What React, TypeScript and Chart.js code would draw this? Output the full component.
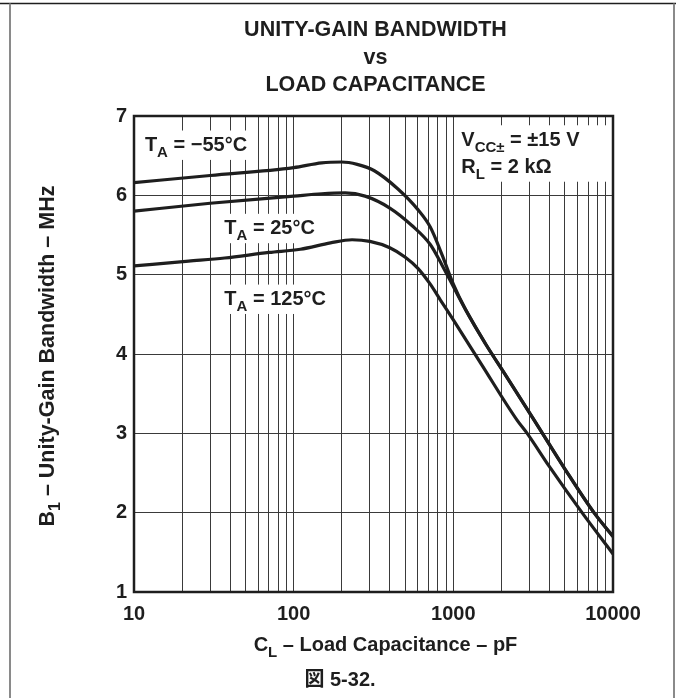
import React, { useEffect, useRef } from 'react';
import { Chart, registerables } from 'chart.js';

Chart.register(...registerables);

const FONT = "'Liberation Sans', Arial, 'Noto Sans CJK JP', sans-serif";
const INK = '#1e1e1e';

// Load capacitance (pF) and unity-gain bandwidth (MHz) per temperature
const capsNeg55 = [10, 30, 100, 150, 200, 250, 320, 450, 600, 717, 850, 1000, 1200, 1600, 2100, 3200, 5000, 7600, 10000];
const bwNeg55 = [6.16, 6.25, 6.35, 6.41, 6.42, 6.39, 6.31, 6.08, 5.82, 5.6, 5.25, 4.88, 4.55, 4.12, 3.75, 3.17, 2.55, 2.0, 1.7];

const caps25 = [10, 30, 100, 150, 210, 280, 400, 550, 717, 850, 1000, 1200, 1600, 2100, 3200, 5000, 7600, 10000];
const bw25 = [5.8, 5.9, 5.99, 6.02, 6.03, 5.99, 5.84, 5.62, 5.38, 5.12, 4.85, 4.55, 4.12, 3.75, 3.17, 2.55, 2.0, 1.7];

const caps125 = [10, 22, 37, 70, 110, 170, 232, 300, 400, 500, 600, 717, 830, 1000, 1500, 2500, 2900, 4000, 6400, 10000];
const bw125 = [5.11, 5.17, 5.21, 5.28, 5.32, 5.4, 5.44, 5.42, 5.34, 5.22, 5.08, 4.88, 4.68, 4.43, 3.87, 3.17, 3.0, 2.58, 2.0, 1.48];

const xDecades = [10, 100, 1000, 10000];
const xMultipliers = [1, 2, 3, 4, 5, 6, 7, 8, 9];
const yMin = 1;
const yMax = 7;

const titleLines = ['UNITY-GAIN BANDWIDTH', 'vs', 'LOAD CAPACITANCE'];

type Seg = { t: string; sub?: boolean };

const xTitle: Seg[] = [{ t: 'C' }, { t: 'L', sub: true }, { t: ' \u2013 Load Capacitance \u2013 pF' }];
const yTitle: Seg[] = [{ t: 'B' }, { t: '1', sub: true }, { t: ' \u2013 Unity-Gain Bandwidth \u2013 MHz' }];
const caption = '\u56f3 5-32.';

const labelNeg55: Seg[] = [{ t: 'T' }, { t: 'A', sub: true }, { t: ' = \u221255\u00b0C' }];
const label25: Seg[] = [{ t: 'T' }, { t: 'A', sub: true }, { t: ' = 25\u00b0C' }];
const label125: Seg[] = [{ t: 'T' }, { t: 'A', sub: true }, { t: ' = 125\u00b0C' }];
const labelVcc: Seg[] = [{ t: 'V' }, { t: 'CC\u00b1', sub: true }, { t: ' = \u00b115 V' }];
const labelRl: Seg[] = [{ t: 'R' }, { t: 'L', sub: true }, { t: ' = 2 k\u03a9' }];

function measureRich(ctx: CanvasRenderingContext2D, segs: Seg[], size: number) {
  let w = 0;
  for (const s of segs) {
    ctx.font = `bold ${s.sub ? Math.round(size * 0.75) : size}px ${FONT}`;
    w += ctx.measureText(s.t).width;
  }
  return w;
}

function drawRich(ctx: CanvasRenderingContext2D, segs: Seg[], x: number, y: number, size: number, align: 'left' | 'center') {
  const total = measureRich(ctx, segs, size);
  let cx = align === 'center' ? x - total / 2 : x;
  ctx.textAlign = 'left';
  ctx.textBaseline = 'alphabetic';
  for (const s of segs) {
    ctx.font = `bold ${s.sub ? Math.round(size * 0.75) : size}px ${FONT}`;
    ctx.fillText(s.t, cx, s.sub ? y + size * 0.3 : y);
    cx += ctx.measureText(s.t).width;
  }
  return total;
}

const decorPlugin = {
  id: 'decor',
  beforeDraw(chart: any) {
    const { ctx, width, height } = chart;
    ctx.save();
    ctx.fillStyle = '#fff';
    ctx.fillRect(0, 0, width, height);
    ctx.restore();
  },
  beforeDatasetsDraw(chart: any) {
    const { ctx, chartArea, scales } = chart;
    const xs = scales.x;
    const ys = scales.y;
    const size = 20;
    ctx.save();
    const annotate = (lines: Seg[][], capX: number, bwY: number[], toRight: boolean) => {
      const left = xs.getPixelForValue(capX);
      const bases = bwY.map((v) => ys.getPixelForValue(v));
      let w = 0;
      for (const l of lines) w = Math.max(w, measureRich(ctx, l, size));
      const top = bases[0] - size * 0.72 - 6;
      const bottom = bases[bases.length - 1] + 9;
      const bl = left - 7;
      const br = toRight ? chartArea.right : left + w + 7;
      ctx.fillStyle = '#fff';
      ctx.fillRect(bl, top, br - bl, bottom - top);
      ctx.fillStyle = INK;
      lines.forEach((l, i) => drawRich(ctx, l, left, bases[i], size, 'left'));
    };
    annotate([labelNeg55], 11.7, [6.56], false);
    annotate([labelVcc, labelRl], 1122, [6.626, 6.285], true);
    annotate([label25], 36.8, [5.51], false);
    annotate([label125], 36.8, [4.618], false);
    ctx.restore();
  },
  afterDatasetsDraw(chart: any) {
    const { ctx, chartArea } = chart;
    ctx.save();
    ctx.strokeStyle = INK;
    ctx.lineWidth = 2.5;
    ctx.strokeRect(chartArea.left, chartArea.top, chartArea.right - chartArea.left, chartArea.bottom - chartArea.top);
    ctx.restore();
  },
  afterDraw(chart: any) {
    const { ctx, chartArea, width } = chart;
    const cx = (chartArea.left + chartArea.right) / 2 + 2;
    ctx.save();
    ctx.strokeStyle = INK;
    ctx.lineWidth = 1.5;
    ctx.beginPath();
    ctx.moveTo(0, 3.5);
    ctx.lineTo(width, 3.5);
    ctx.stroke();
    ctx.strokeStyle = '#8a8a8a';
    ctx.lineWidth = 2;
    ctx.beginPath();
    ctx.moveTo(10, 3.5);
    ctx.lineTo(10, chart.height);
    ctx.moveTo(674, 3.5);
    ctx.lineTo(674, chart.height);
    ctx.stroke();

    ctx.fillStyle = INK;
    ctx.textAlign = 'center';
    ctx.textBaseline = 'alphabetic';
    ctx.font = `bold 21.5px ${FONT}`;
    titleLines.forEach((t, i) => ctx.fillText(t, cx, 36 + i * 27.5));

    drawRich(ctx, xTitle, cx + 10, 651, 20, 'center');

    ctx.font = `bold 20px ${FONT}`;
    ctx.textAlign = 'center';
    ctx.fillText(caption, width / 2 + 2, 686);

    ctx.translate(54, (chartArea.top + chartArea.bottom) / 2 + 2);
    ctx.rotate(-Math.PI / 2);
    drawRich(ctx, yTitle, 0, 0, 21.5, 'center');
    ctx.restore();
  },
};

export default function App() {
  const ref = useRef<HTMLCanvasElement | null>(null);
  useEffect(() => {
    if (!ref.current) return;
    const mk = (caps: number[], bw: number[]) => caps.map((c, i) => ({ x: c, y: bw[i] }));
    const ds = (label: string, data: { x: number; y: number }[]) => ({
      label,
      data,
      borderColor: INK,
      borderWidth: 3.2,
      pointRadius: 0,
      fill: false,
      cubicInterpolationMode: 'monotone' as const,
    });
    const chart = new Chart(ref.current, {
      type: 'line',
      data: {
        datasets: [
          ds('TA = -55°C', mk(capsNeg55, bwNeg55)),
          ds('TA = 25°C', mk(caps25, bw25)),
          ds('TA = 125°C', mk(caps125, bw125)),
        ],
      },
      plugins: [decorPlugin],
      options: {
        responsive: false,
        animation: false,
        layout: { padding: { top: 116, right: 63, left: 0, bottom: 0 } },
        plugins: { legend: { display: false }, tooltip: { enabled: false }, title: { display: false } },
        scales: {
          x: {
            type: 'logarithmic',
            min: xDecades[0],
            max: xDecades[xDecades.length - 1],
            afterBuildTicks: (scale: any) => {
              const vals: number[] = [];
              xDecades.forEach((d, i) => {
                if (i === xDecades.length - 1) vals.push(d);
                else xMultipliers.forEach((m) => vals.push(m * d));
              });
              scale.ticks = vals.map((v) => ({ value: v }));
            },
            afterFit: (scale: any) => {
              scale.height = 106;
            },
            grid: { color: '#3a3a3a', lineWidth: 1, drawTicks: false },
            border: { display: false },
            ticks: {
              autoSkip: false,
              maxRotation: 0,
              padding: 10,
              color: INK,
              font: { family: FONT, size: 20, weight: 'bold' },
              callback: (v: any) => (xDecades.includes(Number(v)) ? String(v) : ''),
            },
          },
          y: {
            type: 'linear',
            min: yMin,
            max: yMax,
            afterFit: (scale: any) => {
              scale.width = 134;
            },
            grid: { color: '#3a3a3a', lineWidth: 1, drawTicks: false },
            border: { display: false },
            ticks: {
              stepSize: 1,
              padding: 7,
              color: INK,
              font: { family: FONT, size: 20, weight: 'bold' },
            },
          },
        },
      },
    } as any);
    return () => chart.destroy();
  }, []);
  return (
    <div style={{ position: 'absolute', left: 0, top: 0, width: 676, height: 698, background: '#fff' }}>
      <canvas ref={ref} width={676} height={698} />
    </div>
  );
}
